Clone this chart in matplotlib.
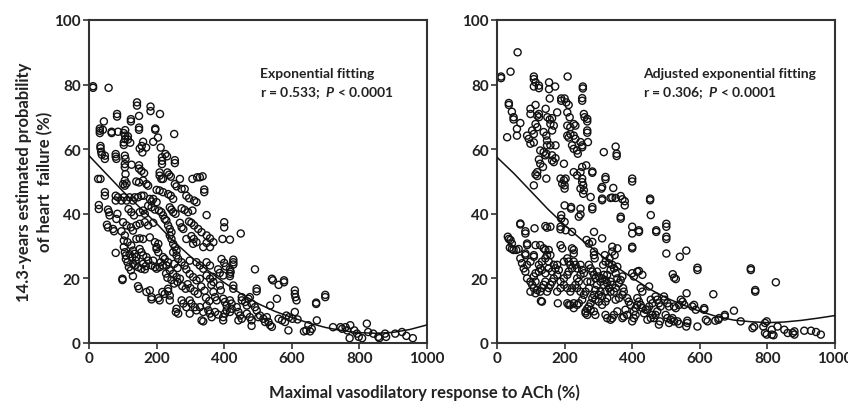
import matplotlib.pyplot as plt

plt.rcParams['font.family'] = ['Lato', 'DejaVu Sans']
plt.rcParams['font.weight'] = 'bold'
plt.rcParams['mathtext.fontset'] = 'custom'
plt.rcParams['mathtext.it'] = 'Lato:italic:bold'
plt.rcParams['mathtext.rm'] = 'Lato:bold'

# Punkte links: Exponential fitting (x = ACh-Antwort %, y = Wahrscheinlichkeit %)
left_points = [
    (12, 79.5), (12, 79), (58, 79), (142, 74.5), (142, 73.5), (182, 73.2), (182, 71.8), (210, 70.9), (83, 70.9), (83, 70.1),
    (124, 69.3), (124, 68.6), (44, 68.6), (148, 70.3), (32, 66.4), (32, 65.7), (32, 65), (67, 65.4), (67, 65), (86, 65.4),
    (107, 65.9), (107, 64.2), (107, 63.1), (196, 66.4), (196, 66), (148, 66.7), (148, 66), (252, 64.7), (41, 66),
    (103, 65), (115, 64), (115, 63), (122, 62), (103, 62.1), (103, 61.3), (160, 62.3), (156, 61), (150, 60.2), (204, 63.6), (190, 62.3),
    (34, 61), (34, 60.3), (36, 59.2), (38, 58.3), (47, 58), (47, 57), (79, 58.5), (79, 57.7), (81, 57), (106, 58), (108, 57),
    (169, 60.5), (158, 59), (212, 60.5), (216, 57.5), (216, 56.4), (216, 55.4), (226, 58.5), (231, 57.8), (254, 56.6), (254, 55.7),
    (148, 55), (148, 54), (155, 53.3), (163, 52.6), (106, 55.4), (106, 54.4), (108, 52.3), (126, 55.2),
    (209, 52.8), (209, 51.8), (214, 50.8), (219, 50.8), (232, 52.8), (237, 52.1), (242, 51.5), (269, 50.8), (306, 50.8),
    (320, 51.3), (328, 51.3), (336, 51.6), (27, 50.8), (34, 50.8), (106, 50.3), (111, 49.4), (101, 49.2), (106, 48.7),
    (140, 50), (148, 49.7), (160, 50.3), (170, 49.2), (175, 48.7), (254, 49.2), (259, 48.5), (274, 47.7), (283, 47.7), (341, 47.5), (341, 46.7),
    (47, 46.7), (47, 45.6), (79, 45.6), (86, 45.1), (103, 45.1), (120, 45.1), (135, 45.1), (145, 45.1), (155, 45.6), (162, 45.6),
    (200, 47.4), (209, 47.2), (219, 46.7), (234, 46.1), (242, 45.6), (249, 44.6), (180, 44.6), (190, 44.6), (185, 43.8), (200, 43.6),
    (79, 44.1), (96, 44.1), (111, 44.1), (130, 44.1), (288, 45.6), (296, 44.8), (318, 43.6), (311, 44.1),
    (29, 42.7), (29, 41.5), (56, 41.3), (59, 40.5), (61, 39.5), (84, 40), (81, 38.4), (117, 41.5), (125, 40.5), (133, 39.5),
    (150, 40.5), (160, 41), (165, 40), (175, 42.5), (185, 42), (195, 41.3), (207, 41), (214, 40.5), (219, 39.5), (224, 38.4),
    (239, 42), (244, 41.3), (249, 40.5), (256, 40), (274, 41.7), (283, 41.2), (293, 40.5), (306, 41), (348, 39.6),
    (53, 36.6), (56, 35.8), (71, 35.3), (74, 34.6), (101, 37.4), (111, 36.4), (124, 35.8), (130, 34.8), (140, 36.4), (150, 36.9),
    (165, 37.4), (175, 36.4), (190, 37.2), (229, 37.9), (234, 36.4), (239, 35.3), (244, 34.3), (269, 37.2), (274, 35.8), (279, 35.3),
    (296, 37.6), (303, 37.2), (311, 36.4), (323, 35.3), (400, 37.4), (400, 35.8), (449, 33.9),
    (333, 34.3), (348, 33.3), (358, 32.4), (368, 31.2), (395, 32.2), (417, 32), (96, 34.6), (106, 33.3), (103, 31.7), (114, 31.2),
    (140, 32.2), (150, 32.4), (160, 32.2), (180, 32.7), (195, 31.2), (205, 30.7), (239, 33.3), (244, 32.2), (249, 30.7), (254, 29.7),
    (259, 28.6), (288, 32.2), (303, 33.1), (310, 32.2), (308, 30.7), (318, 31.2), (348, 31), (338, 29.7), (358, 29.7),
    (79, 27.9), (103, 29.7), (106, 28.1), (109, 27.1), (109, 26), (114, 25), (125, 30.2), (130, 28.6), (135, 27.6), (140, 26.6),
    (150, 29.1), (155, 28.1), (160, 27.1), (170, 26.6), (175, 25.5), (200, 29.7), (200, 29.1), (205, 28.1), (219, 26.6), (224, 26),
    (234, 25), (249, 28.1), (259, 27.1), (264, 26), (274, 25), (283, 24), (298, 25.5), (318, 25), (328, 24), (338, 23), (348, 25), (358, 24),
    (392, 26), (400, 24.8), (405, 23.7), (427, 25.8), (427, 25), (427, 24.3), (491, 22.8),
    (130, 24.5), (135, 24), (145, 23.5), (155, 23), (165, 22.8), (185, 24), (195, 23.5), (200, 23), (209, 23.5), (219, 24), (229, 24),
    (239, 22.5), (249, 21.4), (259, 20.4), (269, 19.9), (288, 22.8), (298, 21.4), (308, 20.4), (318, 19.4), (328, 19.9),
    (348, 20.9), (358, 19.9), (368, 18.9), (382, 22.8), (387, 21.7), (397, 20.9), (417, 22.8), (419, 22),
    (99, 19.9), (99, 19.5), (130, 20.7), (145, 17.6), (148, 16.8), (170, 15.8), (180, 16.3), (185, 14.2), (185, 13.5), (205, 13.9),
    (209, 13.2), (217, 15.8), (224, 15.2), (234, 16.8), (234, 16), (239, 14.7), (239, 13.2), (259, 10.6), (257, 9.6), (264, 9.1),
    (274, 13.2), (279, 12.2), (288, 11.1), (298, 13.2), (303, 12.2), (313, 11.1), (298, 9.1), (318, 10.1), (328, 11.1), (338, 9.6),
    (333, 7), (338, 6.7), (348, 11.6), (353, 10.1), (358, 9.1), (363, 8), (373, 9.6), (382, 8.8), (397, 8), (397, 7), (402, 9.1),
    (368, 15.8), (373, 14.2), (378, 13.2), (387, 17.8), (390, 16.3), (397, 13.7), (402, 12.7), (407, 11.6), (417, 13.2), (422, 12.2),
    (407, 10.1), (417, 9.6), (422, 10.6), (427, 17.8), (427, 16.8), (417, 21.4), (417, 20.7), (437, 11.1), (442, 9.6), (447, 8.5),
    (442, 7), (452, 7.5), (452, 14.2), (452, 13.2), (462, 12.7), (467, 11.6), (472, 13.7), (476, 14.2), (467, 9.1), (476, 8), (481, 7),
    (481, 12.2), (491, 11.1), (496, 10.1), (496, 16.8), (496, 16), (481, 5.3),
    (501, 8), (506, 8.5), (516, 7.5), (521, 6.5), (526, 8), (531, 6.5), (536, 5.5), (541, 5), (541, 19.9), (544, 19.4), (561, 18),
    (577, 19.4), (577, 18.8), (536, 11.6), (556, 13.7), (561, 7.5), (571, 7), (580, 6.5), (590, 3.9), (584, 8.5), (592, 8), (602, 7.5),
    (609, 9.6), (609, 16.3), (609, 15.2), (611, 14.2), (614, 13.2), (617, 7.3), (636, 3.6), (643, 3.9), (654, 3.6), (659, 4.4), (649, 5.5),
    (672, 12.5), (672, 12.1), (674, 7), (699, 14.9), (699, 14.2), (722, 4.9), (744, 4.9), (749, 4.4), (759, 4.9), (764, 3.9),
    (773, 5.5), (771, 1.5), (785, 3.9), (793, 2.9), (798, 1.9), (808, 1.5), (822, 6), (826, 3.4), (841, 2.9), (856, 1.9), (859, 1.5),
    (876, 2.9), (879, 1.9), (906, 2.9), (926, 3.4), (939, 2.2), (958, 1.5),
    # dichter Bereich, nachgetragen
    (120, 27.5), (128, 26.5), (138, 25.5), (118, 23.5), (124, 22.5), (160, 24.5), (168, 23.8), (190, 25.5), (212, 25),
    (228, 21.5), (232, 20.2), (244, 19.5), (252, 18.4), (262, 18.9), (276, 17.6), (286, 16.8), (292, 18.2), (300, 17),
    (312, 16), (322, 15.2), (332, 17.5), (342, 16.2), (346, 14), (356, 13), (362, 18), (366, 20.5), (252, 24.5), (262, 23.2),
]

# Punkte rechts: Adjusted exponential fitting
right_points = [
    (61, 90), (40, 84), (12, 82.5), (12, 82), (109, 82.5), (109, 81.7), (114, 80.7), (109, 79.4), (124, 79.7), (124, 78.9),
    (154, 80.7), (154, 78.6), (156, 75.7), (172, 79.4), (209, 82.5), (254, 79.4), (254, 78.8), (252, 75.8), (252, 75),
    (35, 74.3), (35, 73.7), (44, 71.6), (49, 69.9), (49, 69.2), (30, 63.7), (59, 66.3), (59, 64.2), (69, 68.1), (99, 72.5), (99, 70.9),
    (114, 73.7), (119, 70.4), (190, 75.7), (190, 75), (200, 75.7), (205, 74.5), (212, 73.7), (124, 70.9), (124, 69.9), (144, 72.5),
    (149, 69.9), (156, 69.2), (163, 69.6), (178, 71.4), (158, 67.8), (168, 67.3), (163, 65.8), (89, 64.2), (94, 63.2), (99, 61.7),
    (109, 62.1), (104, 65.8), (109, 64.7), (114, 67.8), (119, 66.8), (138, 65.3), (146, 64.2), (148, 62.7), (148, 61.2), (158, 61.2),
    (173, 61.2), (128, 59.6), (138, 59.1), (146, 58.6), (143, 58.1), (163, 58.1), (168, 56), (163, 56.5), (173, 57.2),
    (124, 56.8), (128, 55.5), (136, 54.5), (114, 52.2), (119, 51.7), (119, 52.9), (109, 48.8), (146, 50.9),
    (208, 71.4), (215, 69.9), (208, 67.3), (217, 66.8), (208, 64.2), (212, 63.6), (217, 64.7), (227, 64.2), (232, 63.2),
    (227, 67.8), (232, 67.3), (222, 61.2), (227, 60.1), (237, 59.6), (239, 58.6), (247, 62.2), (252, 61.2), (252, 60.6),
    (257, 70.9), (259, 69.9), (267, 69.4), (267, 68.6), (267, 65.8), (267, 65.1), (269, 62.2),
    (198, 55.5), (203, 50.9), (198, 50.4), (200, 48.8), (200, 47.8), (188, 50.9), (193, 49.3), (227, 52.9), (237, 51.9),
    (252, 54.5), (247, 52.9), (264, 55), (252, 50.9), (252, 49.8), (255, 48.8), (247, 47.8), (257, 47.3), (255, 46.2), (277, 45.2),
    (282, 53.1), (282, 52.7), (311, 48.3), (309, 47.8), (311, 44.7), (311, 44.2), (316, 59.1), (351, 60.8), (354, 58.6), (354, 57.9),
    (321, 51.4), (321, 50.7), (344, 48), (336, 44.9), (341, 45), (351, 44.9), (366, 45.5), (371, 44.5), (378, 43.9), (378, 42.6),
    (366, 39.1), (366, 38.5), (400, 50.9), (400, 50), (247, 41.6), (282, 42.1), (282, 41.4), (219, 42.1), (219, 41.6), (200, 42.6),
    (247, 39.8), (242, 39.1), (190, 39.6), (190, 38.5), (200, 37.5), (203, 34.9), (222, 34.4), (188, 36), (188, 35.2),
    (158, 36), (148, 35.7), (143, 36.2), (111, 35.5), (69, 37), (69, 36.7), (84, 34.6), (84, 33.9),
    (400, 36), (400, 33.9), (400, 29.8), (400, 29.3), (420, 34.9), (420, 34.4), (453, 44.7), (453, 44.2), (455, 39.6),
    (471, 34.9), (471, 34.4), (501, 36.9), (501, 36), (501, 32.9), (501, 32.2), (501, 27.7), (541, 26.7), (560, 28.6),
    (287, 34.4), (311, 32.4), (265, 31.9), (272, 30.8), (282, 31.3), (287, 28.3), (287, 27.2), (289, 26.2),
    (319, 27.2), (333, 26.2), (341, 28.3), (348, 27.2), (341, 29.8), (356, 29.3), (331, 24.7), (341, 24.2), (356, 23.6),
    (371, 20.6), (400, 21.6), (405, 20.6), (415, 22.1), (420, 22.3), (430, 21.1), (520, 21.3), (524, 20.2), (529, 19.8),
    (593, 23.3), (593, 22.6), (751, 23.1), (751, 22.6), (764, 16.4), (764, 15.9), (825, 18.8), (640, 15.1), (561, 15.4),
    (701, 10), (674, 8.7), (674, 8.2), (655, 7.2), (657, 7.7), (646, 6.9), (613, 10.8), (613, 10.3), (618, 7.2), (623, 6.7),
    (593, 5.1), (563, 6.9), (563, 6.2), (560, 5.1), (539, 5.9), (534, 6.7), (514, 7.2), (519, 7.7), (524, 6.7),
    (499, 8.7), (504, 7.7), (509, 6.2), (479, 5.7), (482, 6.7), (464, 7.7), (469, 8.7), (474, 9.8), (445, 7.2), (455, 7.7), (460, 8.7),
    (435, 9.2), (440, 10.3), (583, 11.8), (578, 11.3), (588, 10.3), (544, 13.4), (549, 12.8), (554, 11.8), (539, 11.8),
    (524, 11.3), (529, 10.8), (494, 14.4), (496, 13.4), (504, 12.3), (509, 11.3), (469, 14.4), (474, 13.4), (479, 12.3), (484, 11.3),
    (455, 13.4), (460, 12.3), (450, 11.3), (445, 10.3), (425, 17), (430, 15.9), (450, 17.5),
    (415, 13.9), (420, 12.8), (425, 11.8), (430, 10.8), (415, 11.8), (410, 10.8), (405, 9.8), (410, 8.7), (405, 7.7), (400, 6.7),
    (385, 13.9), (390, 12.8), (395, 11.8), (380, 10.3), (385, 8.7), (375, 8.2), (371, 7.7),
    (356, 9.8), (346, 8.7), (341, 7.7), (336, 7.2), (326, 7.7), (321, 8.7),
    (373, 17), (375, 15.9), (371, 14.9), (361, 13.9), (351, 13.4), (346, 15.9), (351, 17), (341, 18), (336, 19),
    (326, 13.9), (321, 12.8), (311, 11.8), (301, 12.8), (291, 13.4), (282, 13.9), (277, 12.3), (272, 11.3), (262, 9.8), (267, 8.7),
    (296, 18), (306, 19), (316, 18), (291, 16.4), (306, 15.9), (287, 14.9),
    (267, 19), (272, 17), (262, 15.9), (257, 14.9), (252, 13.4), (242, 12.3), (237, 11.8), (227, 12.3), (217, 11.8), (208, 12.3),
    (227, 10.8), (212, 11.8), (180, 12.3), (133, 12.8),
    (247, 21.1), (237, 20), (242, 19), (232, 18), (222, 17), (237, 17), (247, 15.9), (247, 24.2), (252, 22.6), (257, 21.6),
    (222, 23.1), (212, 22.1), (208, 21.1), (198, 20), (188, 19), (198, 18), (208, 17), (217, 15.9), (188, 17), (178, 15.9),
    (168, 20), (163, 19), (158, 18), (153, 17), (148, 15.9), (143, 19), (138, 18), (133, 17), (128, 15.9), (119, 16.4),
    (163, 22.1), (168, 24.2), (153, 25.2), (143, 26.2), (148, 27.2), (158, 27.2), (153, 23.1), (143, 21.6), (133, 22.6), (124, 22.1),
    (114, 21.6), (109, 20.6), (114, 19), (104, 18), (109, 17), (99, 15.9), (114, 15.4),
    (99, 19), (89, 20), (84, 22.1), (79, 23.1), (89, 24.2), (99, 25.2), (109, 26.7), (109, 27.2), (74, 24.7), (69, 26.2), (84, 27.2), (84, 27.7),
    (89, 30.3), (89, 30.8), (114, 30.3), (128, 30.3), (138, 29.3), (143, 28.8), (153, 28.8),
    (32, 32.9), (35, 32.2), (40, 31.9), (44, 30.8), (38, 29.5), (44, 29.1), (49, 28.8), (57, 28.8), (64, 29.1),
    (188, 30.3), (193, 29.3), (222, 29.3), (227, 28.8), (227, 27.7), (198, 25.2), (208, 26.2), (212, 25.2), (217, 24.2), (227, 25.2),
    (232, 24.2), (237, 23.1), (178, 24.2), (173, 23.1), (183, 22.6), (178, 21.1), (124, 24.2), (128, 23.1), (133, 25.2), (130, 13),
    (272, 24.2), (277, 23.1), (282, 22.1), (287, 21.1), (291, 20), (277, 19), (296, 22.1), (301, 20.6), (311, 20), (316, 21.1),
    (321, 19.5), (326, 18.5), (331, 17), (336, 15.9), (321, 15.9), (311, 14.4), (301, 14.9), (326, 21.1), (336, 22.6), (346, 23.1),
    (351, 21.6), (356, 20), (366, 19.5), (361, 18.5), (314, 24.2), (321, 25.2), (287, 9.8), (291, 8.7), (277, 10.3), (267, 10.6), (262, 9.2),
    (788, 5.1), (793, 6.2), (798, 6.7), (793, 3.1), (798, 2.6), (813, 4.1), (813, 2.6), (818, 2.4), (756, 4.6), (761, 5.1), (721, 6.7),
    (830, 5.1), (850, 4.1), (860, 3.1), (875, 3.1), (880, 3.6), (880, 2.6), (909, 3.8), (929, 3.8), (944, 3.4), (958, 2.6),
]

curve_x = [0, 50, 100, 150, 200, 250, 300, 350, 400, 450, 500, 550, 600, 650, 700, 750, 800, 850, 900, 950, 1000]
left_fit = [58, 52.5, 47, 42, 37, 31.5, 26.8, 22.6, 18.7, 15.2, 12.2, 9.8, 7.9, 6.2, 4.8, 3.8, 3.2, 3.0, 3.3, 4.2, 5.6]
right_fit = [57.5, 52.5, 47, 41.5, 36.5, 32, 27.8, 23.8, 20.2, 16.8, 14, 11.8, 9.8, 8.2, 7.1, 6.6, 6.3, 6.5, 7.0, 7.7, 8.5]

panels = [
    (left_points, left_fit, 'Exponential fitting', 'r = 0.533;  $P$ < 0.0001', 506),
    (right_points, right_fit, 'Adjusted exponential fitting', 'r = 0.306;  $P$ < 0.0001', 432),
]

fig = plt.figure(figsize=(8.48, 4.06), dpi=100)
lefts = [89 / 848, 497 / 848]
dark = '#222222'

for (points, fit, title, stat, tx), left in zip(panels, lefts):
    ax = fig.add_axes([left, 1 - 344 / 406, 338 / 848, 323 / 406])
    xs, ys = zip(*points)
    ax.scatter(xs, ys, s=26, facecolors='none', edgecolors='#111111', linewidths=1.0, zorder=2)
    ax.plot(curve_x, fit, color='#111111', lw=1.1, zorder=3)
    ax.set_xlim(0, 1000)
    ax.set_ylim(0, 100)
    ax.set_xticks([0, 200, 400, 600, 800, 1000])
    ax.set_yticks([0, 20, 40, 60, 80, 100])
    ax.tick_params(direction='out', length=4, width=1.2, color='#333333',
                   labelsize=11, labelcolor=dark, pad=2)
    for lab in ax.get_xticklabels() + ax.get_yticklabels():
        lab.set_fontweight('bold')
    for sp in ax.spines.values():
        sp.set_linewidth(1.5)
        sp.set_color('#333333')
    ax.text(tx, 82.3, title, fontsize=10, fontweight='bold', color=dark, va='baseline')
    ax.text(tx, 76.5, stat, fontsize=10, fontweight='bold', color=dark, va='baseline')

# Y-Beschriftung zweizeilig, beide Zeilen zentriert
fig.text(24 / 848, 1 - 182 / 406, '14.3-years estimated probability',
         rotation=90, ha='center', va='center', fontsize=12, fontweight='bold', color=dark)
fig.text(45 / 848, 1 - 182 / 406, 'of heart  failure (%)',
         rotation=90, ha='center', va='center', fontsize=12, fontweight='bold', color=dark)
fig.text(0.5, 1 - 393 / 406, 'Maximal vasodilatory response to ACh (%)',
         ha='center', va='center', fontsize=12, fontweight='bold', color=dark)

plt.savefig('out.png', dpi=100)
